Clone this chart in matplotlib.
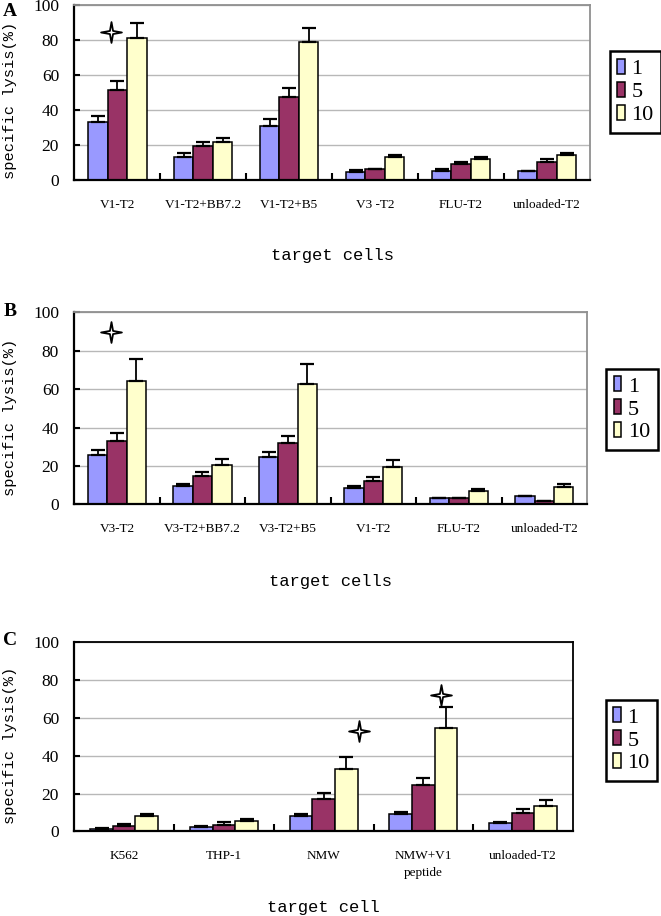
import numpy as np
import matplotlib
matplotlib.use("Agg")
import matplotlib.pyplot as plt
from matplotlib.path import Path

# ==========================================================
# DATI
# ==========================================================
series_labels = ["1", "5", "10"]
series_colors = ["#9999FF", "#993366", "#FFFFCC"]

# Pannello A
cats_a = ["V1-T2", "V1-T2+BB7.2", "V1-T2+B5", "V3 -T2", "FLU-T2", "unloaded-T2"]
a_v1 = [33.0, 13.3, 31.0, 4.4, 5.3, 5.2]
a_v5 = [51.6, 19.2, 47.6, 6.1, 9.3, 10.1]
a_v10 = [81.0, 21.9, 79.0, 13.3, 12.2, 14.3]
a_e1 = [3.8, 1.9, 4.0, 1.1, 1.0, 0.2]
a_e5 = [5.0, 2.7, 4.8, 0.3, 1.0, 2.1]
a_e10 = [8.9, 2.1, 8.0, 1.0, 1.1, 0.9]
a_star_x = [-0.07]
a_star_y = [84.4]

# Pannello B
cats_b = ["V3-T2", "V3-T2+BB7.2", "V3-T2+B5", "V1-T2", "FLU-T2", "unloaded-T2"]
b_v1 = [25.7, 9.5, 24.8, 8.7, 3.1, 4.2]
b_v5 = [32.8, 14.9, 31.9, 12.2, 3.1, 1.7]
b_v10 = [64.4, 20.3, 62.5, 19.6, 6.9, 8.9]
b_e1 = [2.6, 0.9, 2.6, 0.8, 0.2, 0.2]
b_e5 = [4.5, 1.9, 3.7, 1.9, 0.2, 0.2]
b_e10 = [11.5, 3.5, 10.8, 3.3, 1.1, 1.7]
b_star_x = [-0.074]
b_star_y = [89.9]

# Pannello C
cats_c = ["K562", "THP-1", "NMW", "NMW+V1\npeptide", "unloaded-T2"]
c_v1 = [1.0, 2.1, 8.1, 9.3, 4.6]
c_v5 = [2.6, 3.5, 17.3, 24.7, 9.9]
c_v10 = [8.3, 5.6, 32.8, 54.7, 13.4]
c_e1 = [0.9, 0.9, 1.2, 0.9, 0.2]
c_e5 = [1.3, 1.3, 2.8, 3.7, 1.8]
c_e10 = [1.0, 1.1, 6.5, 10.9, 2.9]
c_star_x = [2.35, 3.18]
c_star_y = [53.2, 72.1]

# ==========================================================
# FIGURA
# ==========================================================
W, H = 661, 916
fig = plt.figure(figsize=(W / 100, H / 100), dpi=100)

SERIF = "Liberation Serif"
MONO = "Liberation Mono"

# stella a 4 punte
a = 0.15
star_path = Path([(0, 1), (a, a), (1, 0), (a, -a), (0, -1), (-a, -a),
                  (-1, 0), (-a, a), (0, 1)],
                 [Path.MOVETO] + [Path.LINETO] * 7 + [Path.CLOSEPOLY])


def box(l, r, t, b):
    return [l / W, 1 - b / H, (r - l) / W, (b - t) / H]


def draw_panel(rect, cats, vals, errs, star_x, star_y, letter, xlabel,
               legend_c, frame_col, label_coords):
    ax = fig.add_axes(box(*rect))
    n = len(cats)
    x = np.arange(n)
    w = 0.227
    handles = []
    for k in range(3):
        xs = x + (k - 1) * w
        h = ax.bar(xs, vals[k], width=w, color=series_colors[k],
                   edgecolor="black", linewidth=1.1, label=series_labels[k],
                   zorder=2)
        handles.append(h)
        ax.errorbar(xs, vals[k], yerr=[np.zeros(n), errs[k]], fmt="none",
                    ecolor="black", elinewidth=1.3, capsize=5, capthick=1.6,
                    zorder=3)

    ax.plot(star_x, star_y, linestyle="none", marker=star_path,
            markersize=15, markerfacecolor="white", markeredgecolor="black",
            markeredgewidth=1.3, zorder=4)

    ax.set_xlim(-0.5, n - 0.5)
    ax.set_ylim(0, 100)
    ax.set_yticks(np.arange(0, 101, 20))
    ax.yaxis.grid(True, color="#b8b8b8", linewidth=1.0)
    ax.set_axisbelow(True)

    ax.set_xticks(x)
    ax.set_xticklabels(cats, fontfamily=SERIF, fontsize=9.5)
    ax.set_xticks(np.arange(0.5, n - 0.5, 1), minor=True)
    ax.tick_params(axis="x", which="major", length=0, pad=13.5)
    ax.tick_params(axis="x", which="minor", direction="in", length=5,
                   width=1.5, color="black")
    ax.tick_params(axis="y", direction="in", length=4, width=1.5, pad=11)
    for lbl in ax.get_yticklabels():
        lbl.set_fontfamily(SERIF)
        lbl.set_fontsize(12.5)
    for lbl in ax.get_xticklabels():
        lbl.set_linespacing(1.6)

    for s in ["left", "bottom"]:
        ax.spines[s].set_color("black")
        ax.spines[s].set_linewidth(1.6)
    for s in ["top", "right"]:
        ax.spines[s].set_color(frame_col)
        ax.spines[s].set_linewidth(1.3)

    ax.set_ylabel("specific lysis(%)", fontfamily=MONO, fontsize=11.1,
                  va="center", ha="center")
    ax.yaxis.set_label_coords(*label_coords[0])
    ax.set_xlabel(xlabel, fontfamily=MONO, fontsize=12.3, va="center")
    ax.xaxis.set_label_coords(*label_coords[1])

    leg = ax.legend(handles=handles, loc="center",
                    bbox_to_anchor=(legend_c[0] / W, 1 - legend_c[1] / H),
                    bbox_transform=fig.transFigure,
                    prop={"family": SERIF, "size": 16},
                    handlelength=0.32, handleheight=0.65, handletextpad=0.3,
                    labelspacing=0.12, borderpad=0.35, borderaxespad=0,
                    fancybox=False, framealpha=1, edgecolor="black")
    leg.get_frame().set_linewidth(1.8)

    fig.text(10 / W, 1 - letter[1] / H, letter[0], fontfamily=SERIF,
             fontweight="bold", fontsize=14, ha="center", va="center")
    return ax


draw_panel((74.3, 590, 5, 180), cats_a,
           [a_v1, a_v5, a_v10], [a_e1, a_e5, a_e10], a_star_x, a_star_y,
           ("A", 11), "target cells", (635.5, 92), "#909090",
           ((-0.1247, 0.455), (0.5, -0.429)))

draw_panel((74.3, 587, 312.3, 504.3), cats_b,
           [b_v1, b_v5, b_v10], [b_e1, b_e5, b_e10], b_star_x, b_star_y,
           ("B", 312), "target cells", (632, 409.5), "#909090",
           ((-0.1254, 0.455), (0.5, -0.401)))

draw_panel((74.3, 573, 642.3, 831.3), cats_c,
           [c_v1, c_v5, c_v10], [c_e1, c_e5, c_e10], c_star_x, c_star_y,
           ("C", 640.5), "target cell", (631.5, 740.5), "black",
           ((-0.129, 0.452), (0.5, -0.402)))

fig.savefig("out.png", dpi=100)
